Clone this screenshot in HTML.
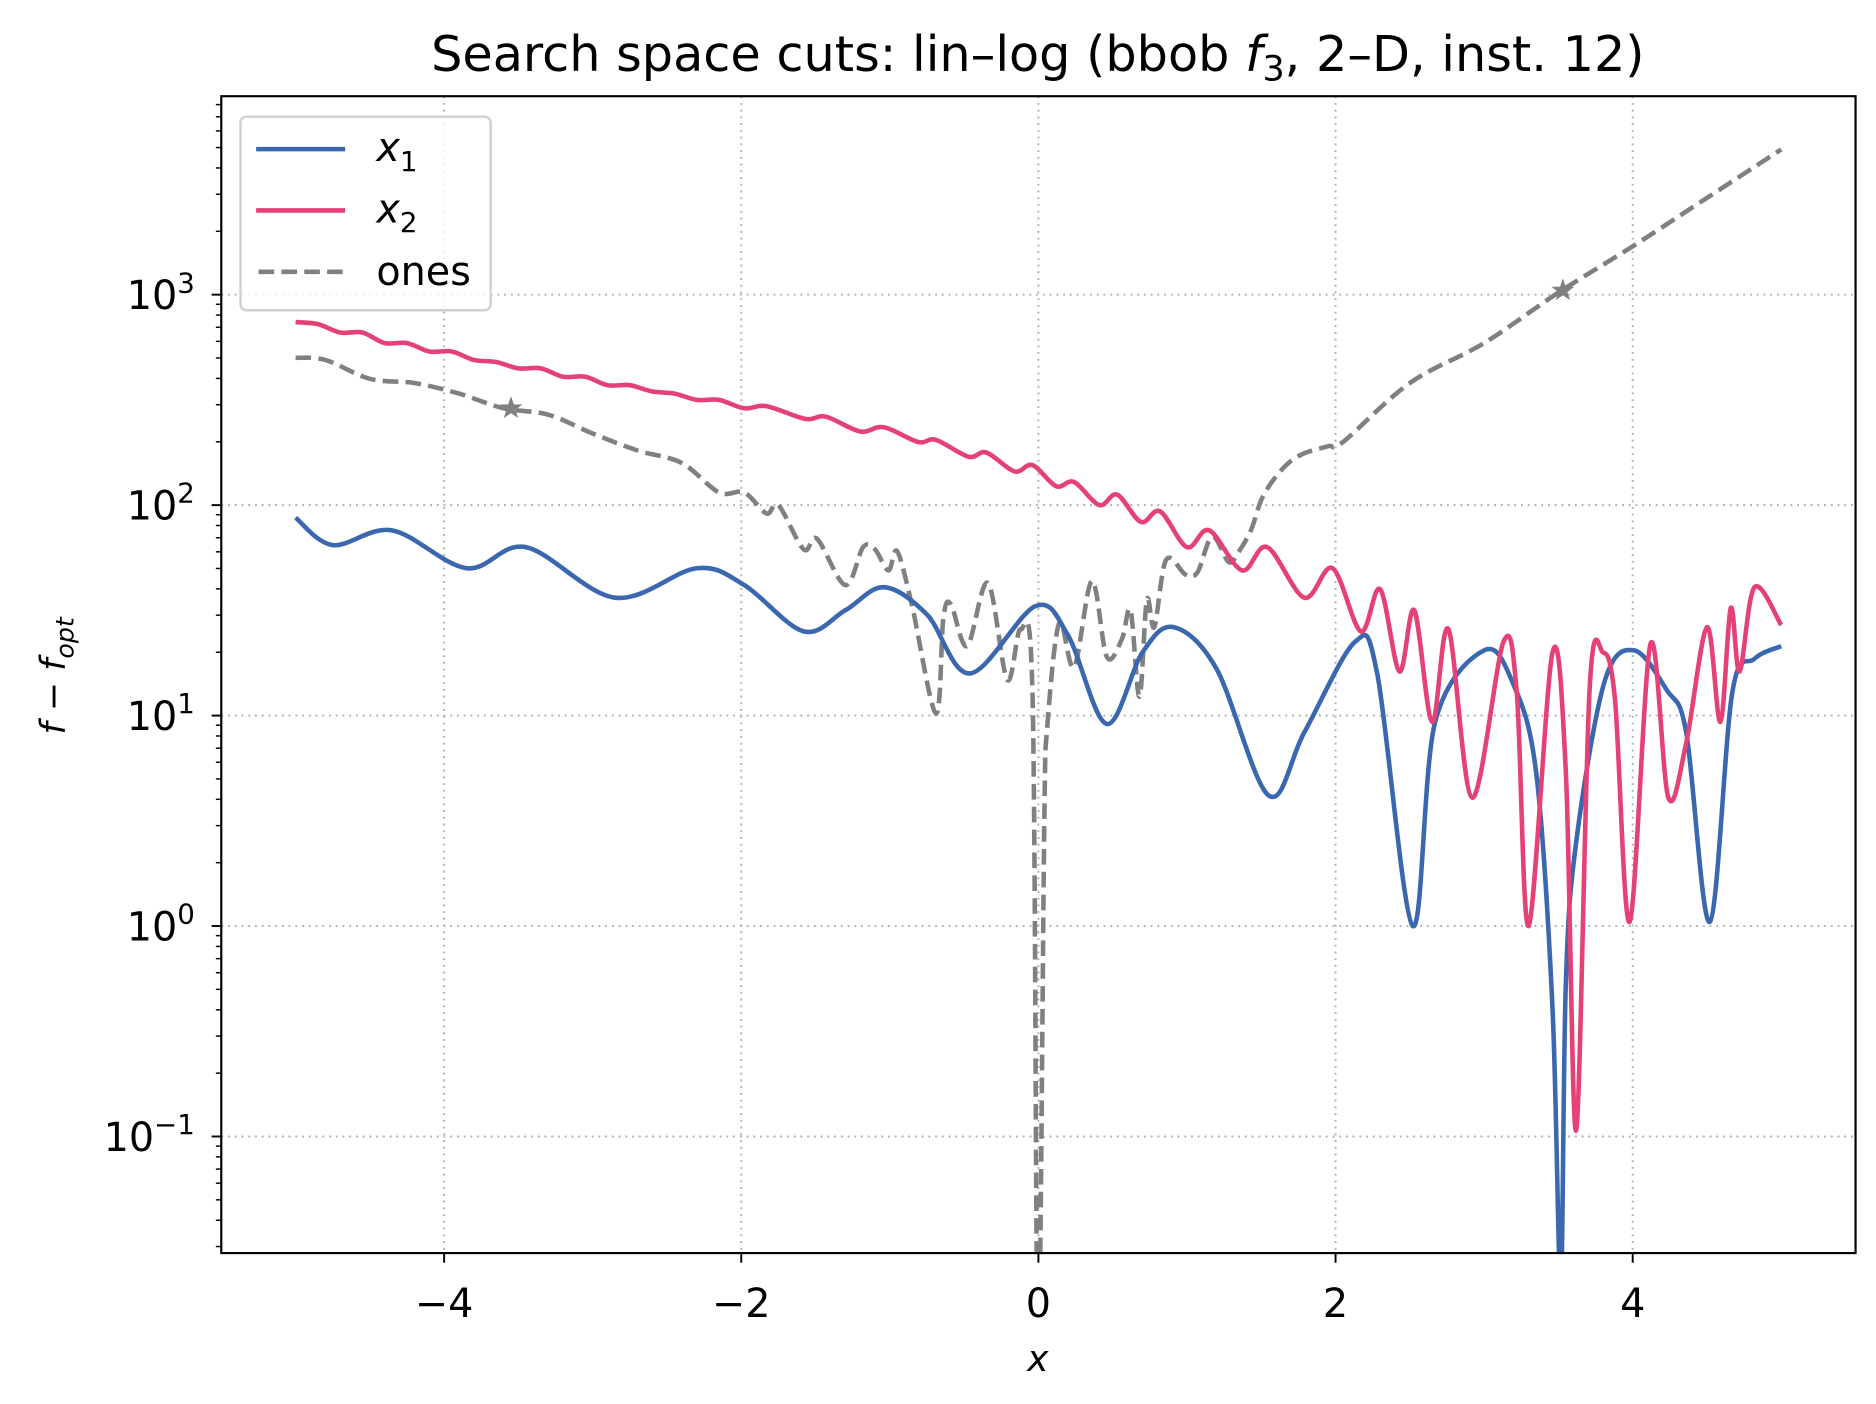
<!DOCTYPE html>
<html><head><meta charset="utf-8"><style>
html,body{margin:0;padding:0;background:#fff}
svg{display:block;font-family:"DejaVu Sans","Liberation Sans",sans-serif}
</style></head><body>
<svg id="chart" width="1876" height="1404" viewBox="0 0 1560 1167.5" preserveAspectRatio="none" xmlns="http://www.w3.org/2000/svg">
<rect width="1560" height="1167.5" fill="#fff"/>
<defs><clipPath id="plotclip"><rect x="184" y="80" width="1359" height="962"/></clipPath></defs>
<g id="grid"></g>
<g id="series" clip-path="url(#plotclip)"></g>
<rect x="184" y="80" width="1359" height="962" fill="none" stroke="#000" stroke-width="1.8"/>
<g id="ticks"></g>
<text x="863" y="59" font-size="41" text-anchor="middle">Search space cuts: lin–log (bbob <tspan font-style="italic">f</tspan><tspan font-size="29" dy="8">3</tspan><tspan dy="-8">, 2–D, inst. 12)</tspan></text>
<text x="863" y="1140" font-size="30" font-style="italic" text-anchor="middle">x</text>
<text transform="translate(54,562) rotate(-90)" font-size="29" text-anchor="middle"><tspan font-style="italic">f</tspan> − <tspan font-style="italic">f</tspan><tspan font-size="21" font-style="italic" dy="7">opt</tspan></text>
<g>
<rect x="200" y="97" width="208" height="161" rx="5" fill="#fff" fill-opacity="0.8" stroke="#d0d0d0" stroke-width="2"/>
<g><line x1="213" y1="124" x2="287" y2="124" stroke="#3a67ae" stroke-width="3.8"/><text x="313" y="134" font-size="33" font-style="italic">x<tspan font-size="23" font-style="normal" dy="8">1</tspan></text></g>
<g><line x1="213" y1="175" x2="287" y2="175" stroke="#e54174" stroke-width="3.8"/><text x="313" y="185" font-size="33" font-style="italic">x<tspan font-size="23" font-style="normal" dy="8">2</tspan></text></g>
<g><line x1="215" y1="226" x2="287" y2="226" stroke="#808080" stroke-width="3.8" stroke-dasharray="13 6"/><text x="313" y="237" font-size="33">ones</text></g>
</g>
</svg>
<script>
// x positions and log10(f - fopt) values
const x1X = [-5,-4.75,-4.35,-3.85,-3.45,-2.85,-2.3,-1.98,-1.58,-1.3,-1.04,-0.75,-0.46,-0.02,0.2,0.46,0.7,0.91,1.2,1.55,1.79,2.13,2.28,2.52,2.67,3.0,3.19,3.35,3.46,3.515,3.55,3.62,3.81,4.01,4.23,4.36,4.52,4.67,4.82,5.0];
const x1LogF = [1.94,1.81,1.88,1.70,1.80,1.56,1.70,1.62,1.40,1.50,1.61,1.48,1.20,1.52,1.38,0.96,1.30,1.42,1.22,0.62,0.92,1.35,1.20,0.0,0.97,1.31,1.16,0.73,-0.39,-1.7,-0.27,0.40,1.16,1.31,1.12,0.92,0.02,1.11,1.27,1.33];
const x2X = [-5.0,-4.85,-4.7,-4.55,-4.4,-4.25,-4.1,-3.95,-3.8,-3.65,-3.5,-3.35,-3.2,-3.05,-2.9,-2.75,-2.6,-2.45,-2.3,-2.15,-1.98,-1.83,-1.57,-1.43,-1.2,-1.04,-0.81,-0.69,-0.47,-0.35,-0.16,-0.04,0.12,0.24,0.41,0.53,0.69,0.82,1.0,1.15,1.37,1.54,1.79,1.98,2.17,2.30,2.43,2.53,2.65,2.76,2.92,3.13,3.22,3.30,3.46,3.55,3.62,3.71,3.80,3.88,3.98,4.12,4.24,4.36,4.50,4.59,4.66,4.72,4.82,5.0];
const x2LogF = [2.87,2.86,2.82,2.82,2.77,2.77,2.73,2.73,2.69,2.68,2.65,2.65,2.61,2.61,2.57,2.57,2.54,2.53,2.50,2.50,2.46,2.47,2.41,2.42,2.35,2.37,2.30,2.31,2.23,2.25,2.16,2.19,2.09,2.11,2.00,2.05,1.92,1.97,1.80,1.88,1.69,1.80,1.56,1.70,1.40,1.60,1.21,1.50,0.97,1.41,0.61,1.35,1.11,0.0,1.30,0.73,-0.97,1.13,1.30,1.08,0.02,1.34,0.61,0.87,1.42,0.97,1.51,1.21,1.61,1.43];
const onesX = [-5,-4.8,-4.5,-4.2,-3.9,-3.6,-3.3,-3.0,-2.7,-2.4,-2.15,-1.98,-1.83,-1.75,-1.58,-1.49,-1.30,-1.18,-1.10,-1.01,-0.95,-0.85,-0.69,-0.64,-0.59,-0.48,-0.34,-0.21,-0.12,-0.04,-0.01,0.01,0.04,0.06,0.14,0.24,0.36,0.46,0.56,0.62,0.68,0.73,0.78,0.86,0.99,1.07,1.17,1.28,1.34,1.43,1.51,1.64,1.77,1.95,2.05,2.5,3.0,3.5,4.0,4.5,5.0];
const onesLogF = [2.70,2.69,2.60,2.58,2.53,2.46,2.43,2.34,2.26,2.20,2.06,2.06,1.96,2.00,1.79,1.84,1.62,1.80,1.79,1.69,1.78,1.52,1.01,1.46,1.53,1.33,1.63,1.17,1.41,1.1,-1.7,-1.7,0.5,0.95,1.44,1.23,1.64,1.28,1.36,1.50,1.09,1.55,1.42,1.74,1.67,1.68,1.85,1.73,1.77,1.88,2.04,2.17,2.24,2.28,2.30,2.58,2.77,3.01,3.23,3.46,3.69];
const starX = [-3.55, 3.53];
const starLogF = [2.46, 3.02];
const xTicks = [-4,-2,0,2,4];
const yDecades = [-1,0,1,2,3];

const NS='http://www.w3.org/2000/svg';
const L=184,R=1543,T=80,B=1042;
const xMin=-5.5,xMax=5.5,yMin=-1.554,yMax=3.943;
function sx(v){return L+(v-xMin)/(xMax-xMin)*(R-L);}
function sy(v){return B-(v-yMin)/(yMax-yMin)*(B-T);}
function mk(tag,attrs,parent){const e=document.createElementNS(NS,tag);for(const k in attrs)e.setAttribute(k,attrs[k]);parent.appendChild(e);return e;}
const grid=document.getElementById('grid'),ticks=document.getElementById('ticks'),series=document.getElementById('series');

xTicks.forEach(t=>{
  const X=sx(t);
  const g=mk('line',{x1:X,y1:T,x2:X,y2:B,stroke:'#b0b0b0','stroke-width':1.6,'stroke-dasharray':'1.6 4'},grid);
  
  
  const tk=mk('line',{x1:X,y1:B,x2:X,y2:B+8,stroke:'#000','stroke-width':1.6},ticks);
  
  
  const lb=mk('text',{x:X,y:B+53,'font-size':33,'text-anchor':'middle'},ticks);
  lb.textContent=(t<0?'−':'')+Math.abs(t);
  
  
});
for(let d=-2;d<=3;d++){
  for(let m=1;m<10;m++){
    const v=d+Math.log10(m);
    if(v<yMin||v>yMax)continue;
    const Y=sy(v);
    const tk=mk('line',{x1:L-(m===1?8:4.5),y1:Y,x2:L,y2:Y,stroke:'#000','stroke-width':m===1?1.6:1.2},ticks);
    
    
  }
}
yDecades.forEach(d=>{
  const Y=sy(d);
  const g=mk('line',{x1:L,y1:Y,x2:R,y2:Y,stroke:'#b0b0b0','stroke-width':1.6,'stroke-dasharray':'1.6 4'},grid);
  
  
  const lb=mk('text',{x:L-22,y:Y+12,'font-size':33,'text-anchor':'end'},ticks);
  
  
  const a=document.createElementNS(NS,'tspan');a.textContent='10';lb.appendChild(a);
  const b=document.createElementNS(NS,'tspan');b.setAttribute('font-size','23');b.setAttribute('dy','-14');b.textContent=d<0?'−'+Math.abs(d):String(d);lb.appendChild(b);
});

function pathFor(xs,ys){
  const p=xs.map((x,i)=>[sx(x),sy(ys[i])]);
  let d='M'+p[0][0].toFixed(1)+','+p[0][1].toFixed(1);
  for(let i=0;i<p.length-1;i++){
    const p0=p[Math.max(0,i-1)],p1=p[i],p2=p[i+1],p3=p[Math.min(p.length-1,i+2)];
    const c1=[p1[0]+(p2[0]-p0[0])/6,p1[1]+(p2[1]-p0[1])/6];
    const c2=[p2[0]-(p3[0]-p1[0])/6,p2[1]-(p3[1]-p1[1])/6];
    d+=' C'+c1[0].toFixed(1)+','+c1[1].toFixed(1)+' '+c2[0].toFixed(1)+','+c2[1].toFixed(1)+' '+p2[0].toFixed(1)+','+p2[1].toFixed(1);
  }
  return d;
}
const pOnes=mk('path',{d:pathFor(onesX,onesLogF),fill:'none',stroke:'#808080','stroke-width':3.8,'stroke-dasharray':'13 6'},series);


const pX1=mk('path',{d:pathFor(x1X,x1LogF),fill:'none',stroke:'#3a67ae','stroke-width':3.8,'stroke-linejoin':'round'},series);


const pX2=mk('path',{d:pathFor(x2X,x2LogF),fill:'none',stroke:'#e54174','stroke-width':3.8,'stroke-linejoin':'round'},series);


starX.forEach((x,i)=>{
  const cx=sx(x),cy=sy(starLogF[i]);let pts=[];
  for(let k=0;k<10;k++){const r=k%2?4:10;const a=-Math.PI/2+k*Math.PI/5;pts.push((cx+r*Math.cos(a)).toFixed(1)+','+(cy+r*Math.sin(a)).toFixed(1));}
  const s=mk('polygon',{points:pts.join(' '),fill:'#808080'},series);
  
  
});
</script>
</body></html>
